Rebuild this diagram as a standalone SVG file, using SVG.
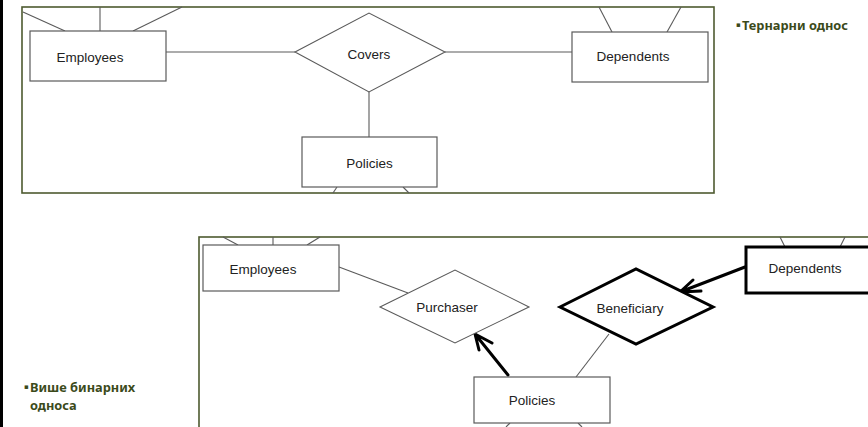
<svg xmlns="http://www.w3.org/2000/svg" width="868" height="427" viewBox="0 0 868 427">
  <style>
    .frame { fill: none; stroke: #4e5a30; stroke-width: 1.6; }
    .ent { fill: #ffffff; stroke: #5a5a5a; stroke-width: 1.2; }
    .rel { fill: #ffffff; stroke: #5a5a5a; stroke-width: 1.1; }
    .bold-ent { fill: #ffffff; stroke: #000000; stroke-width: 3; }
    .line { fill: none; stroke: #5a5a5a; stroke-width: 1.1; }
    .thick { fill: none; stroke: #000000; stroke-width: 3; stroke-linecap: round; stroke-linejoin: round; }
    .lbl { font-family: "Liberation Sans", Arial, sans-serif; font-size: 13.5px; fill: #222222; text-anchor: middle; }
    .note { font-family: "Noto Sans", "DejaVu Sans", sans-serif; font-weight: bold; font-size: 12.8px; fill: #3b4a1a; }
    .bullet { font-family: "DejaVu Sans", sans-serif; font-size: 7px; }
  </style>

  <rect x="0" y="0" width="868" height="427" fill="#ffffff"/>
  <!-- left page edge -->
  <rect x="0" y="0" width="3" height="427" fill="#000000"/>

  <!-- ternary relationship frame -->
  <rect class="frame" x="22" y="7" width="692" height="186"/>
  <!-- multiple binary relationships frame -->
  <rect class="frame" x="199" y="237" width="680" height="200"/>

  <g id="connectors">
    <!-- ternary: attribute stubs -->
    <line class="line" x1="23" y1="12" x2="65" y2="31"/>
    <line class="line" x1="100" y1="7" x2="100" y2="31"/>
    <line class="line" x1="133" y1="31" x2="182" y2="7"/>
    <line class="line" x1="599" y1="7" x2="612" y2="32"/>
    <line class="line" x1="681" y1="7" x2="667" y2="32"/>
    <line class="line" x1="337" y1="187" x2="333" y2="193"/>
    <line class="line" x1="403" y1="187" x2="409" y2="193"/>
    <!-- ternary: relationship links -->
    <line class="line" x1="166" y1="52" x2="295" y2="52"/>
    <line class="line" x1="445" y1="52" x2="572" y2="52"/>
    <line class="line" x1="369" y1="92" x2="369" y2="137"/>

    <!-- binary: attribute stubs -->
    <line class="line" x1="223" y1="237" x2="238" y2="245"/>
    <line class="line" x1="273" y1="237" x2="273" y2="245"/>
    <line class="line" x1="307" y1="245" x2="320" y2="237"/>
    <line class="line" x1="780" y1="237" x2="785" y2="247"/>
    <line class="line" x1="845" y1="237" x2="840" y2="247"/>
    <line class="line" x1="510" y1="423" x2="506" y2="427"/>
    <line class="line" x1="578" y1="423" x2="582" y2="427"/>
    <!-- binary: relationship links -->
    <line class="line" x1="339" y1="267" x2="408" y2="293"/>
    <line class="line" x1="609" y1="334" x2="576" y2="377"/>
    <!-- key constraint arrows -->
    <path class="thick" d="M508,375 L475,334 M475,334 L479,350 M475,334 L492,343"/>
    <path class="thick" d="M745,267 L680,292 M680,292 L693,280 M680,292 L701,291"/>
  </g>

  <!-- ternary relationship -->
  <g id="employees-1">
    <rect class="ent" x="30" y="31" width="136" height="50"/>
    <text class="lbl" x="90" y="62">Employees</text>
  </g>
  <g id="covers">
    <polygon class="rel" points="295,52 369,13 445,52 369,92"/>
    <text class="lbl" x="369" y="59">Covers</text>
  </g>
  <g id="dependents-1">
    <rect class="ent" x="572" y="32" width="136" height="50"/>
    <text class="lbl" x="633" y="61">Dependents</text>
  </g>
  <g id="policies-1">
    <rect class="ent" x="302" y="137" width="135" height="50"/>
    <text class="lbl" x="369.5" y="168">Policies</text>
  </g>

  <!-- two binary relationships -->
  <g id="employees-2">
    <rect class="ent" x="203" y="245" width="136" height="46"/>
    <text class="lbl" x="263" y="274">Employees</text>
  </g>
  <g id="purchaser">
    <polygon class="rel" points="380,307 455,270 529,307 455,343"/>
    <text class="lbl" x="447" y="312">Purchaser</text>
  </g>
  <g id="beneficiary">
    <polygon class="bold-ent" points="560,307 636,269 713,307 636,344"/>
    <text class="lbl" x="630" y="313">Beneficiary</text>
  </g>
  <g id="dependents-2">
    <rect class="bold-ent" x="746" y="247" width="130" height="46"/>
    <text class="lbl" x="805" y="273">Dependents</text>
  </g>
  <g id="policies-2">
    <rect class="ent" x="474" y="377" width="136" height="46"/>
    <text class="lbl" x="532" y="405">Policies</text>
  </g>

  <!-- captions -->
  <g id="caption-ternary">
    <text class="note" x="736" y="30"><tspan class="bullet" dy="-3">▪</tspan><tspan x="742" dy="3">Тернарни однос</tspan></text>
  </g>
  <g id="caption-binary">
    <text class="note" x="24" y="392"><tspan class="bullet" dy="-3">▪</tspan><tspan x="30" dy="3">Више бинарних</tspan></text>
    <text class="note" x="30" y="410">односа</text>
  </g>
</svg>
